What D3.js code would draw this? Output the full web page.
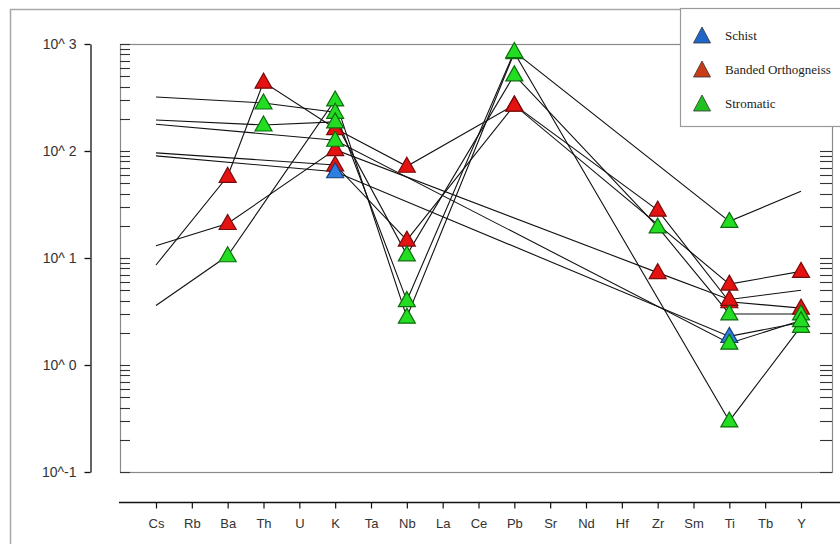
<!DOCTYPE html>
<html><head><meta charset="utf-8">
<script src="https://cdn.jsdelivr.net/npm/d3@7"></script>
<style>body{margin:0;background:#fff}svg{display:block}</style>
</head><body><svg id="c" width="840" height="544"></svg>
<script>
// ---- data ----
const elements = ["Cs","Rb","Ba","Th","U","K","Ta","Nb","La","Ce","Pb","Sr","Nd","Hf","Zr","Sm","Ti","Tb","Y"];
const groups = ["Schist","Banded Orthogneiss","Stromatic"];
const yTickValues = [0.1, 1, 10, 100, 1000];
const yTickLabels = ["10^-1","10^ 0","10^ 1","10^ 2","10^ 3"];

//               Cs   Rb   Ba   Th   U    K    Ta   Nb   La   Ce   Pb   Sr   Nd   Hf   Zr   Sm   Ti   Tb   Y
const bo1 = [8.6, null, 58, 440, null, 162, null, 72, null, null, 270, null, null, null, 28, null, 3.9, null, 3.4];
const bo2 = [96, null, null, null, null, 74, null, 14.7, null, null, 268, null, null, null, null, null, 5.7, null, 7.5];
const bo3 = [13, null, 21, null, null, 103, null, null, null, null, null, null, null, null, 7.3, null, 4.1, null, 5.0];
const st1 = [3.6, null, 10.5, null, null, 300, null, 2.8, null, null, 830, null, null, null, null, null, 0.3, null, 2.3];
const st2 = [320, null, null, 281, null, 230, null, 4.0, null, null, 850, null, null, null, null, null, 22, null, 42];
const st3 = [195, null, null, 175, null, 187, null, 10.7, null, null, 515, null, null, null, 19.5, null, 3.0, null, 3.0];
const st4 = [178, null, null, null, null, 126, null, null, null, null, null, null, null, null, null, null, 1.6, null, 2.6];
const sc1 = [90, null, null, null, null, 64, null, null, null, null, null, null, null, null, null, null, 1.85, null, 2.5];

const sampleValues = [bo1, bo2, bo3, sc1, st1, st2, st3, st4];
const sampleGroups = ["Banded Orthogneiss","Banded Orthogneiss","Banded Orthogneiss","Schist","Stromatic","Stromatic","Stromatic","Stromatic"];
const sampleUnmarked = [["Cs"],["Cs"],["Cs","Y"],["Cs","Y"],["Cs"],["Cs","Y"],["Cs"],["Cs"]];

// ---- drawing ----
const svg = d3.select("#c");
const fill = {"Schist":"#2f7fe0","Banded Orthogneiss":"#e51212","Stromatic":"#22dd22"};
const edge = {"Schist":"#16407a","Banded Orthogneiss":"#7a0a0a","Stromatic":"#0d6e0d"};
const legFill = {"Schist":"#1f66c8","Banded Orthogneiss":"#c83c18","Stromatic":"#1fc01f"};

const plot = {l:120, t:44, r:832, b:472};
const x = d3.scalePoint().domain(elements).range([156, 801]);
const y = d3.scaleLog().domain([0.1, 1000]).range([plot.b, plot.t]);

// outer frame
svg.append("path").attr("d","M10.5,544V9.5H840").attr("fill","none").attr("stroke","#a8a8a8").attr("stroke-width",1.5);

// plot frame
svg.append("rect").attr("x",plot.l+0.5).attr("y",plot.t+0.5).attr("width",plot.r-plot.l).attr("height",plot.b-plot.t)
  .attr("fill","#fff").attr("stroke","#8a8a8a").attr("stroke-width",1.2);

// minor ticks inside frame
const minor = [];
[-1,0,1,2].forEach(k=>{for(let d=1; d<=9; d++) minor.push(d*Math.pow(10,k));});
minor.push(1000);
const mg = svg.append("g").attr("stroke","#333").attr("stroke-width",1.1);
minor.forEach(v=>{
  const yy = Math.round(y(v))+0.5;
  mg.append("line").attr("x1",plot.l).attr("x2",plot.l+10).attr("y1",yy).attr("y2",yy);
  mg.append("line").attr("x1",plot.r-12).attr("x2",plot.r).attr("y1",yy).attr("y2",yy);
});

// left axis
const ya = svg.append("g").attr("transform","translate(90.5,0)")
  .call(d3.axisLeft(y).tickValues(yTickValues).tickFormat((d,i)=>yTickLabels[i]).tickSize(6).tickSizeOuter(0));
ya.select(".domain").attr("stroke","#111").attr("stroke-width",1.3);
ya.selectAll(".tick line").attr("stroke","#111").attr("stroke-width",1.3);
ya.selectAll(".tick text").attr("font-family","Liberation Sans, Arial, sans-serif").attr("font-size",14).attr("fill","#333").attr("x",-14);

// bottom axis
svg.append("line").attr("x1",119).attr("x2",840).attr("y1",502.5).attr("y2",502.5).attr("stroke","#111").attr("stroke-width",1.3);
const xa = svg.append("g").attr("transform","translate(0,502.5)")
  .call(d3.axisBottom(x).tickSize(6).tickSizeOuter(0));
xa.select(".domain").remove();
xa.selectAll(".tick line").attr("stroke","#111").attr("stroke-width",1.2);
xa.selectAll(".tick text").attr("font-family","Liberation Sans, Arial, sans-serif").attr("font-size",13).attr("fill","#333").attr("dy","1.25em");

// lines
const line = d3.line().x(d=>x(d.el)).y(d=>y(d.v));
const pts = sampleValues.map(vals => vals.map((v,i)=>({el:elements[i], v})).filter(d=>d.v!==null));
svg.append("g").selectAll("path").data(pts).join("path")
  .attr("d", line).attr("fill","none").attr("stroke","#111").attr("stroke-width",1.1);

// markers
const tri = "M0,-9L8.5,6L-8.5,6Z";
const order = ["Banded Orthogneiss","Schist","Stromatic"];
const mk = [];
order.forEach(g=>{
  sampleValues.forEach((vals,si)=>{
    if(sampleGroups[si]!==g) return;
    vals.forEach((v,i)=>{
      if(v===null || sampleUnmarked[si].includes(elements[i])) return;
      mk.push({g, el:elements[i], v});
    });
  });
});
svg.append("g").selectAll("path").data(mk).join("path")
  .attr("d",tri).attr("transform",d=>`translate(${x(d.el)},${y(d.v)})`)
  .attr("fill",d=>fill[d.g]).attr("stroke",d=>edge[d.g]).attr("stroke-width",1.2);

// legend
const lg = svg.append("g");
lg.append("rect").attr("x",680.5).attr("y",8.5).attr("width",170).attr("height",118)
  .attr("fill","#fff").attr("stroke","#9a9a9a").attr("stroke-width",1.2);
groups.forEach((g,i)=>{
  const cy = 36 + i*34;
  lg.append("path").attr("d","M0,-9L8.5,7L-8.5,7Z").attr("transform",`translate(702,${cy})`)
    .attr("fill",legFill[g]).attr("stroke","#333").attr("stroke-width",0.8);
  lg.append("text").attr("x",725).attr("y",cy+4).text(g)
    .attr("font-family","Liberation Serif, Times New Roman, serif").attr("font-size",13).attr("fill","#222");
});
</script></body></html>
